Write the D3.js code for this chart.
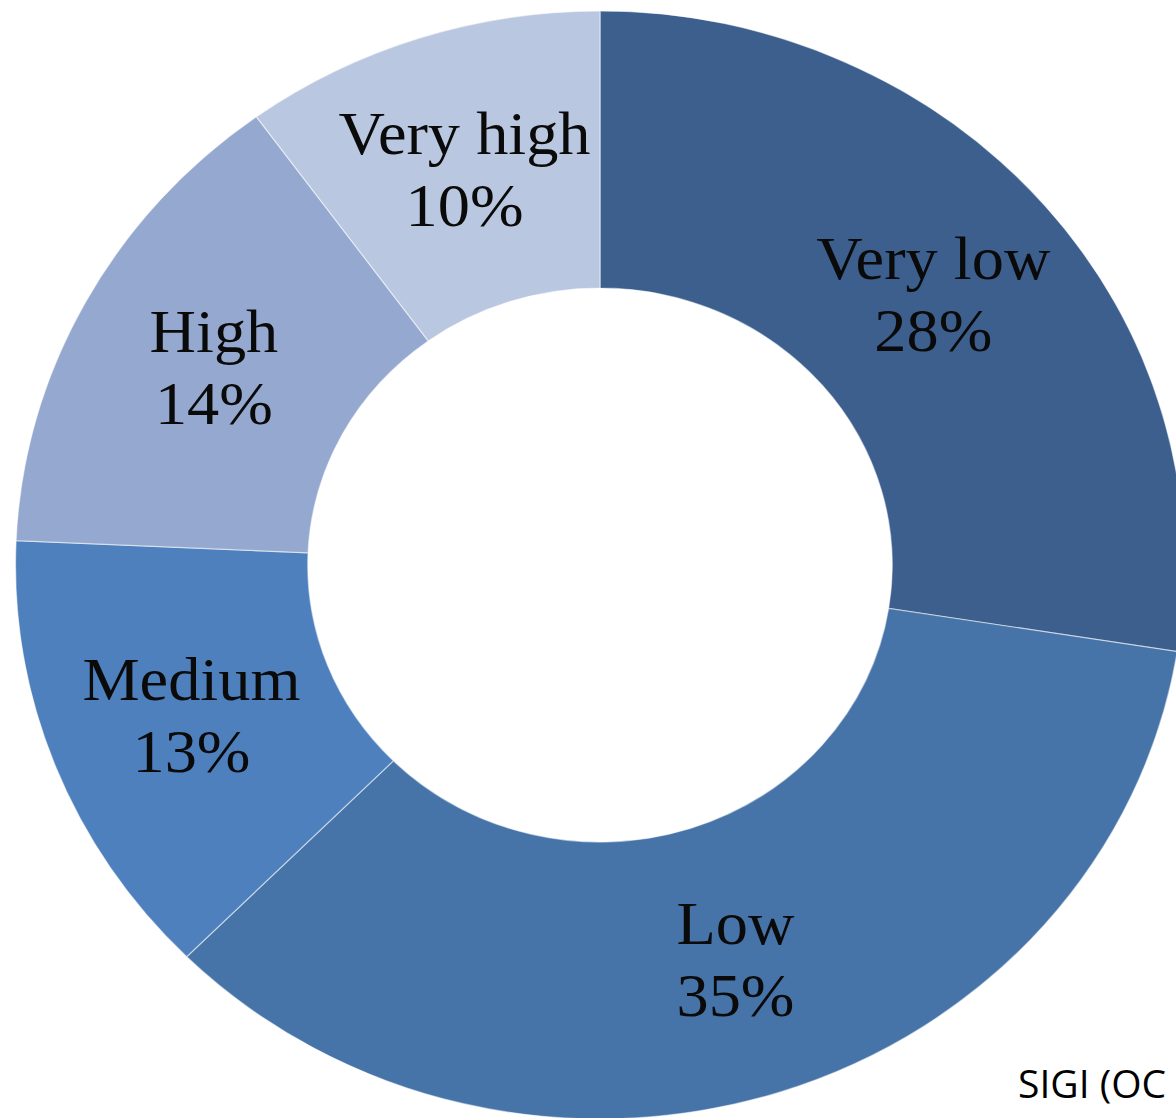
<!DOCTYPE html>
<html>
<head>
<meta charset="utf-8">
<script src="https://cdn.jsdelivr.net/npm/d3@7"></script>
<style>
    body { margin: 0; background: #fff; }
    svg { display: block; }
</style>
</head>
<body>
<div id="donut"></div>
<script>
// data (slice sizes, labels as printed)
var categories = ["Very low", "Low", "Medium", "High", "Very high"];
var values = [27.5, 35, 13.2, 14.3, 10];
var labels = ["28%", "35%", "13%", "14%", "10%"];
var colors = ["#3c5f8e", "#4674a8", "#4d80bd", "#95a8cf", "#b9c7e0"];

window.onload = function() {
    donut();
};

function donut() {
    // graph specs
    var width = 1176;
    var height = 1118;
    var center = {x: 600, y: 565};
    var outer = 554;
    var inner = 277;
    var stretch = 1.055; // picture is a bit wider than tall

    var svg = d3.select("#donut").append("svg")
        .attr("width", width)
        .attr("height", height);

    var g = svg.append("g")
        .attr("transform", "translate(" + center.x + "," + center.y + ") scale(" + stretch + ",1)");

    var pie = d3.pie().sort(null).value(function(d) { return d; });
    var arcs = pie(values);

    var arc = d3.arc().innerRadius(inner).outerRadius(outer);
    var labelarc = d3.arc().innerRadius((inner + outer) / 2).outerRadius((inner + outer) / 2);

    // slices
    g.selectAll(".slice").data(arcs).enter().append("path")
        .attr("class", "slice")
        .attr("d", arc)
        .attr("fill", function(d, i) { return colors[i]; })
        .attr("stroke", "#ffffff")
        .attr("stroke-opacity", 0.5)
        .attr("stroke-width", 1.2);

    // labels
    var lab = g.selectAll(".label").data(arcs).enter().append("text")
        .attr("class", "label")
        .attr("transform", function(d) {
            var c = labelarc.centroid(d);
            return "translate(" + c[0] + "," + c[1] + ")";
        })
        .attr("text-anchor", "middle")
        .style("font-family", "'Liberation Serif', 'Times New Roman', serif")
        .style("font-size", "61px")
        .style("fill", "#0a0a0a");
    lab.append("tspan").attr("x", 0).attr("y", -16).text(function(d, i) { return categories[i]; });
    lab.append("tspan").attr("x", 0).attr("y", 56).text(function(d, i) { return labels[i]; });

    // source
    svg.append("text")
        .text("SIGI (OC")
        .attr("x", 1018)
        .attr("y", 1098)
        .style("font-family", "'Open Sans', sans-serif")
        .style("font-size", "39px")
        .style("fill", "#000");
}
</script>
</body>
</html>
